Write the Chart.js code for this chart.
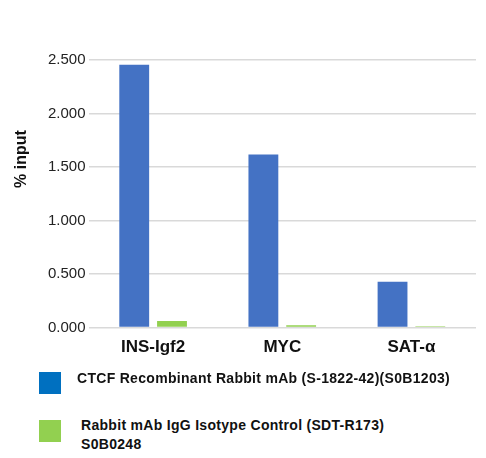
<!DOCTYPE html>
<html>
<head>
<meta charset="utf-8">
<script src="https://cdn.jsdelivr.net/npm/chart.js@4.4.1/dist/chart.umd.min.js"></script>
<style>
    html, body { margin: 0; padding: 0; background: #fff; }
    #wrap { position: relative; width: 486px; height: 458px; }
    #chipChart { position: absolute; left: 0; top: 0; }
    .leg { position: absolute; font-family: "Liberation Sans", Arial, sans-serif; font-weight: bold; font-size: 14px; letter-spacing: 0.3px; color: #111; line-height: 19px; }
    .box { position: absolute; width: 22px; height: 22px; }
</style>
</head>
<body>
<div id="wrap">
    <canvas id="chipChart" width="486" height="370"></canvas>
    <div class="box" style="left:39px; top:372px; background:#0070C0;"></div>
    <div class="leg" style="left:77px; top:369px;">CTCF Recombinant Rabbit mAb (S-1822-42)(S0B1203)</div>
    <div class="box" style="left:39px; top:420px; background:#92D050;"></div>
    <div class="leg" style="left:81px; top:416px;">Rabbit mAb IgG Isotype Control (SDT-R173)<br>S0B0248</div>
</div>
<script>
const categorias = ["INS-Igf2", "MYC", "SAT-α"];
const ctcf = [2.456, 1.617, 0.429];
const igg = [0.062, 0.022, 0.012];
const yTicks = [0, 0.5, 1, 1.5, 2, 2.5];

// titulo do eixo Y desenhado a parte (fica acima do centro no original)
const tituloY = {
    id: "tituloY",
    afterDraw(chart) {
        const c = chart.ctx;
        c.save();
        c.translate(22, chart.chartArea.top + 99);
        c.rotate(-Math.PI / 2);
        c.font = "bold 16px 'Liberation Sans', Arial, sans-serif";
        c.fillStyle = "#111";
        c.textAlign = "center";
        c.textBaseline = "middle";
        c.fillText("% input", 0, 0);
        c.restore();
    }
};

const ctx = document.getElementById("chipChart").getContext("2d");
new Chart(ctx, {
    type: "bar",
    data: {
        labels: categorias,
        datasets: [
            {
                label: "CTCF Recombinant Rabbit mAb (S-1822-42)(S0B1203)",
                data: ctcf,
                backgroundColor: "#4472C4",
                categoryPercentage: 0.585,
                barPercentage: 0.79
            },
            {
                label: "Rabbit mAb IgG Isotype Control (SDT-R173) S0B0248",
                data: igg,
                backgroundColor: "#92D050",
                categoryPercentage: 0.585,
                barPercentage: 0.79
            }
        ]
    },
    options: {
        responsive: false,
        animation: false,
        layout: { padding: { left: 45, right: 10, top: 60, bottom: 2 } },
        plugins: {
            legend: { display: false },
            tooltip: { enabled: false }
        },
        scales: {
            x: {
                grid: { display: false, drawTicks: false },
                border: { display: false },
                ticks: {
                    color: "#111",
                    padding: 10,
                    font: { family: "'Liberation Sans', Arial, sans-serif", size: 17, weight: "bold" }
                }
            },
            y: {
                min: 0,
                max: 2.5,
                afterBuildTicks: axis => { axis.ticks = yTicks.map(v => ({ value: v })); },
                grid: { color: "#d9d9d9", lineWidth: 1.5, drawTicks: false },
                border: { display: false },
                ticks: {
                    color: "#222",
                    padding: 3,
                    font: { family: "'Liberation Sans', Arial, sans-serif", size: 15 },
                    callback: v => Number(v).toFixed(3)
                }
            }
        }
    },
    plugins: [tituloY]
});
</script>
</body>
</html>
